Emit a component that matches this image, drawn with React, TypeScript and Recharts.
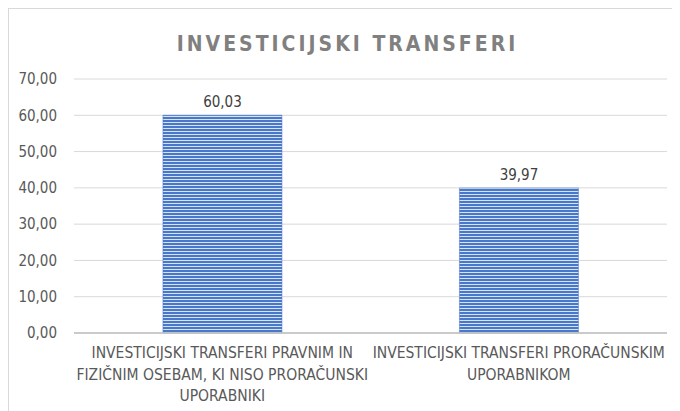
import { BarChart, Bar, XAxis, YAxis, CartesianGrid, LabelList } from 'recharts';

const categories = [
  'INVESTICIJSKI TRANSFERI PRAVNIM IN FIZIČNIM OSEBAM, KI NISO PRORAČUNSKI UPORABNIKI',
  'INVESTICIJSKI TRANSFERI PRORAČUNSKIM UPORABNIKOM',
];
const categoryLines = [
  ['INVESTICIJSKI TRANSFERI PRAVNIM IN', 'FIZIČNIM OSEBAM, KI NISO PRORAČUNSKI', 'UPORABNIKI'],
  ['INVESTICIJSKI TRANSFERI PRORAČUNSKIM', 'UPORABNIKOM'],
];
const values = [60.03, 39.97];
const yTicks = [0, 10, 20, 30, 40, 50, 60, 70];

const data = categories.map((name, i) => ({ name, value: values[i] }));

const fmt = (v: number) => v.toFixed(2).replace('.', ',');
const font = '"Liberation Sans Narrow", "DejaVu Sans Condensed", "Liberation Sans", sans-serif';

function CategoryTick(props: any) {
  const { x, y, index } = props;
  const lines = categoryLines[index] || [];
  return (
    <text x={x} y={y} textAnchor="middle" fill="#595959" fontSize={15.5} fontFamily={font}>
      {lines.map((ln, i) => (
        <tspan key={i} x={x} dy={i === 0 ? 17 : 21.5}>
          {ln}
        </tspan>
      ))}
    </text>
  );
}

export default function App() {
  return (
    <div
      style={{
        position: 'relative',
        width: 671,
        height: 402,
        borderTop: '1px solid #d9d9d9',
        borderLeft: '1px solid #d9d9d9',
        background: '#fff',
      }}
    >
      <div
        style={{
          position: 'absolute',
          left: 0,
          width: 671,
          top: 23,
          textAlign: 'center',
          fontFamily: font,
          fontSize: 21,
          fontWeight: 600,
          letterSpacing: 3,
          color: '#808080',
          paddingLeft: 6,
          boxSizing: 'border-box',
        }}
      >
        INVESTICIJSKI TRANSFERI
      </div>
      <BarChart
        width={671}
        height={402}
        data={data}
        margin={{ top: 70, right: 13, left: 0, bottom: 8 }}
        barCategoryGap="30%"
      >
        <defs>
          <pattern id="stripes" width="6" height="3" patternUnits="userSpaceOnUse">
            <rect x="0" y="0" width="6" height="3" fill="#4a78c8" />
            <rect x="0" y="2" width="6" height="1" fill="#d6e2f5" />
          </pattern>
        </defs>
        <CartesianGrid vertical={false} stroke="#d9d9d9" />
        <XAxis
          dataKey="name"
          tick={<CategoryTick />}
          tickLine={false}
          axisLine={{ stroke: '#bfbfbf', strokeWidth: 1.5 }}
          height={70}
          interval={0}
        />
        <YAxis
          domain={[0, 70]}
          ticks={yTicks}
          tickFormatter={fmt}
          axisLine={false}
          tickLine={false}
          width={65}
          tickMargin={11}
          tick={{ fill: '#595959', fontSize: 15, fontFamily: font }}
        />
        <Bar dataKey="value" fill="url(#stripes)" stroke="#4472c4" strokeWidth={0.5} isAnimationActive={false}>
          <LabelList
            dataKey="value"
            position="top"
            offset={8}
            formatter={(v: any) => fmt(Number(v))}
            style={{ fill: '#404040', fontSize: 15, fontFamily: font }}
          />
        </Bar>
      </BarChart>
    </div>
  );
}
